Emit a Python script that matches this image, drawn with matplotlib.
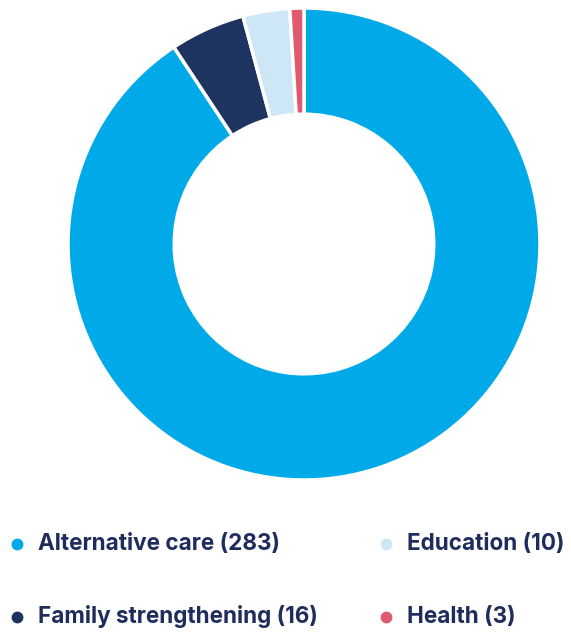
import matplotlib.pyplot as plt
from matplotlib.lines import Line2D

# program areas, clockwise from the top
labels = ['Alternative care', 'Family strengthening', 'Education', 'Health']
counts = [283, 16, 10, 3]
colors = ['#00a9e8', '#1d3461', '#cde7f6', '#e05a6e']
text_color = '#1e2d5b'

plt.rcParams['font.family'] = ['Inter', 'DejaVu Sans']

W, H = 571, 633
fig = plt.figure(figsize=(W / 100, H / 100), dpi=100)

cx, cy, r = 304, 244, 236
ax = fig.add_axes([(cx - r) / W, (H - cy - r) / H, 2 * r / W, 2 * r / H])
ax.pie(counts, colors=colors, startangle=90, counterclock=False,
       radius=1, wedgeprops=dict(width=0.45, edgecolor='white', linewidth=2.5))
ax.set_xlim(-1, 1)
ax.set_ylim(-1, 1)
ax.set_aspect('equal')
ax.axis('off')

# legend in two columns
legend_pos = {
    'Alternative care': (17, 544),
    'Education': (386, 544),
    'Family strengthening': (17, 617),
    'Health': (386, 617),
}
for name, n, c in zip(labels, counts, colors):
    x, y = legend_pos[name]
    fig.add_artist(Line2D([x / W], [1 - y / H], marker='o', markersize=7.5,
                          color=c, linestyle='none', transform=fig.transFigure))
    fig.text((x + 21) / W, 1 - y / H, f'{name} ({n})', fontsize=16.2,
             fontweight='bold', color=text_color, va='center', ha='left')

fig.savefig('out.png', dpi=100)
